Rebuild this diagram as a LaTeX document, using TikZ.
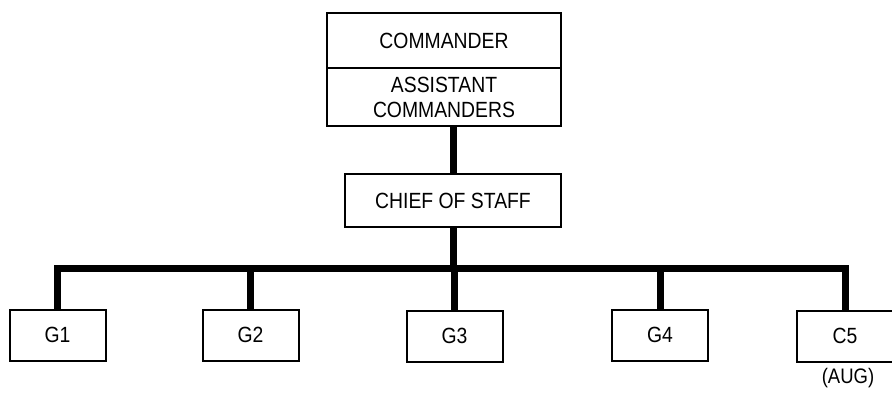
\documentclass[tikz,border=0pt]{standalone}
\usepackage{fontspec}
\setmainfont{Liberation Sans}[FakeStretch=0.88]
\begin{document}
\begin{tikzpicture}[x=1pt,y=-1pt,
  box/.style={draw, line width=2pt, fill=white, align=center, inner sep=0pt,
    font=\fontsize{22}{25}\selectfont},
  gbox/.style={box, minimum width=96pt, minimum height=51pt},
  link/.style={line width=7pt}]
\useasboundingbox (0,0) rectangle (892,396);

% command group
\node[box, minimum width=234pt, minimum height=55pt] (cmd) at (444,40.5) {COMMANDER};
\node[box, minimum width=234pt, minimum height=58pt] (asst) at (444,97) {ASSISTANT\\COMMANDERS};
\node[box, minimum width=216pt, minimum height=53pt] (chief) at (453,200.5) {CHIEF OF STAFF};

% staff sections
\node[gbox] (g1) at (57.5,335) {G1};
\node[gbox] (g2) at (250.5,335) {G2};
\node[gbox] (g3) at (454.5,336) {G3};
\node[gbox] (g4) at (660,335) {G4};
\node[gbox] (g5) at (845,336) {C5};
\node[font=\fontsize{21}{24}\selectfont] (aug) at (848,378) {(AUG)};

\coordinate (bus) at (0,268);

% connectors
\draw[link] (chief.north) -- (chief.north |- asst.south);
\draw[link] (chief.south) -- (chief.south |- bus);
\draw[link, line join=miter] (g1.north) -- (g1.north |- bus) -- (g5.north |- bus) -- (g5.north);
\draw[link] (g2.north) -- (g2.north |- bus);
\draw[link] (g3.north) -- (g3.north |- bus);
\draw[link] (g4.north) -- (g4.north |- bus);
\end{tikzpicture}
\end{document}
